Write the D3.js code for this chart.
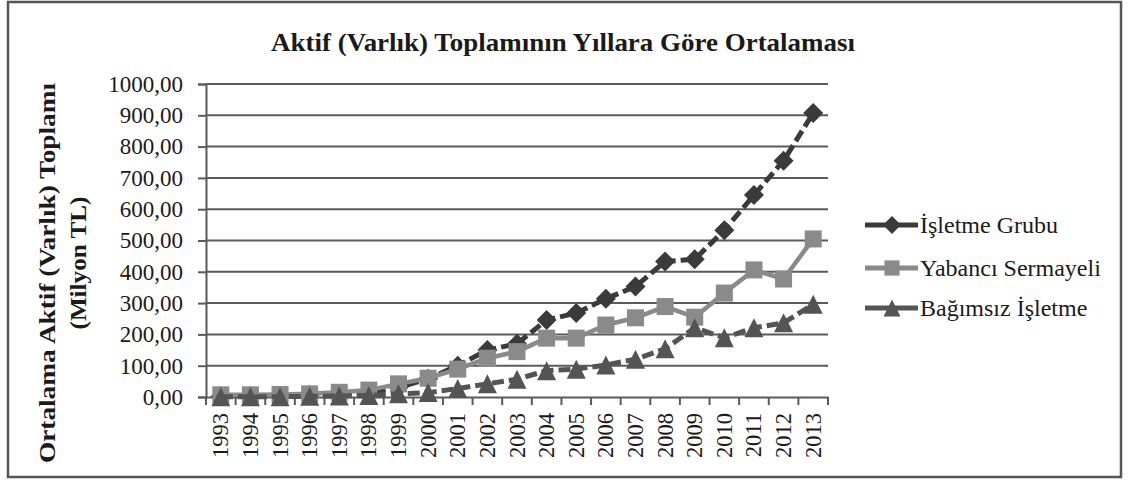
<!DOCTYPE html>
<html>
<head>
<meta charset="utf-8">
<script src="https://cdn.jsdelivr.net/npm/d3@7/dist/d3.min.js"></script>
<style>
  html, body { margin: 0; padding: 0; background: #fff; }
  svg { display: block; }
  text { font-family: 'Liberation Serif', 'Times New Roman', serif; fill: #1a1a1a; }
</style>
</head>
<body>
<svg id="chart" width="1129" height="481"></svg>
<script>
const years = ["1993","1994","1995","1996","1997","1998","1999","2000","2001","2002","2003",
               "2004","2005","2006","2007","2008","2009","2010","2011","2012","2013"];
const isletmeGrubu = [2, 3, 4, 6, 9, 14, 30, 58, 100, 150, 170, 246, 268, 314, 353, 433, 440, 533, 645, 755, 907];
const yabanciSermayeli = [7, 7, 8, 10, 15, 22, 42, 60, 89, 124, 145, 188, 188, 230, 253, 289, 255, 332, 406, 377, 505];
const bagimsizIsletme = [1, 1, 1, 2, 3, 5, 10, 14, 27, 42, 57, 84, 89, 102, 121, 154, 221, 189, 221, 237, 296];
const yTicks = [0, 100, 200, 300, 400, 500, 600, 700, 800, 900, 1000];
const seriesNames = ["İşletme Grubu", "Yabancı Sermayeli", "Bağımsız İşletme"];
const chartTitle = "Aktif (Varlık) Toplamının Yıllara Göre Ortalaması";
const yTitleLines = ["Ortalama Aktif (Varlık) Toplamı", "(Milyon TL)"];

const svg = d3.select("#chart");

// outer frame
svg.append("rect").attr("x", 8).attr("y", 2).attr("width", 1113).attr("height", 475)
  .attr("fill", "#fff").attr("stroke", "#555").attr("stroke-width", 2.5);

const plot = { left: 206, right: 828, top: 84, bottom: 397 };

const x = d3.scaleBand().domain(years).range([plot.left, plot.right]).paddingInner(0).paddingOuter(0);
const y = d3.scaleLinear().domain([0, 1000]).range([plot.bottom, plot.top]);
const cx = d => x(d) + x.bandwidth() / 2;

// gridlines
svg.append("g").selectAll("line").data(yTicks.filter(d => d > 0)).join("line")
  .attr("x1", plot.left).attr("x2", plot.right)
  .attr("y1", d => y(d)).attr("y2", d => y(d))
  .attr("stroke", "#5a5a5a").attr("stroke-width", 2);

// y axis
const fmt = d => d3.format(".2f")(d).replace(".", ",");
const yAxis = svg.append("g").attr("transform", `translate(${plot.left},0)`)
  .call(d3.axisLeft(y).tickValues(yTicks).tickFormat(fmt).tickSize(8).tickPadding(15));
yAxis.attr("font-family", null);
yAxis.select(".domain").attr("stroke", "#5a5a5a").attr("stroke-width", 2);
yAxis.selectAll(".tick line").attr("stroke", "#5a5a5a").attr("stroke-width", 2);
yAxis.selectAll(".tick text").attr("font-size", 23).attr("fill", "#1a1a1a");

// x axis
const xAxis = svg.append("g").attr("transform", `translate(0,${plot.bottom})`)
  .call(d3.axisBottom(x).tickSize(0).tickPadding(0));
xAxis.attr("font-family", null);
xAxis.select(".domain").attr("stroke", "#5a5a5a").attr("stroke-width", 2);
xAxis.selectAll(".tick text")
  .attr("font-size", 22.5).attr("fill", "#1a1a1a")
  .attr("text-anchor", "end").attr("dominant-baseline", "central")
  .attr("transform", "translate(0,16) rotate(-90)").attr("x", 0).attr("y", 0).attr("dy", null);
// boundary tick marks
const bounds = years.map(d => x(d)).concat([plot.right]);
xAxis.append("g").selectAll("line").data(bounds).join("line")
  .attr("x1", d => d).attr("x2", d => d).attr("y1", 0).attr("y2", 8)
  .attr("stroke", "#5a5a5a").attr("stroke-width", 2);

// title
svg.append("text").attr("x", 563).attr("y", 51).attr("text-anchor", "middle")
  .attr("font-size", 25).attr("font-weight", "bold").attr("textLength", 584)
  .attr("lengthAdjust", "spacingAndGlyphs").text(chartTitle);

// y title
const yT = svg.append("g").attr("transform", "translate(0,273) rotate(-90)");
yT.append("text").attr("x", 0).attr("y", 55).attr("text-anchor", "middle")
  .attr("font-size", 24).attr("font-weight", "bold").attr("textLength", 380)
  .attr("lengthAdjust", "spacingAndGlyphs").text(yTitleLines[0]);
yT.append("text").attr("x", 10).attr("y", 86).attr("text-anchor", "middle")
  .attr("font-size", 24).attr("font-weight", "bold").attr("textLength", 133)
  .attr("lengthAdjust", "spacingAndGlyphs").text(yTitleLines[1]);

// custom triangle / diamond symbols (width ~ height)
const triSym = { draw(ctx, size) { const s = Math.sqrt(size); ctx.moveTo(0, -s/2); ctx.lineTo(s/2, s/2); ctx.lineTo(-s/2, s/2); ctx.closePath(); } };
const diamondSym = { draw(ctx, size) { const s = Math.sqrt(size) / 2; ctx.moveTo(0, -s); ctx.lineTo(s, 0); ctx.lineTo(0, s); ctx.lineTo(-s, 0); ctx.closePath(); } };

const series = [
  { name: seriesNames[0], values: isletmeGrubu, color: "#3a3a3a", dash: "12,5", width: 5, sym: diamondSym, size: 20*20 },
  { name: seriesNames[1], values: yabanciSermayeli, color: "#8a8a8a", dash: null, width: 4.5, sym: d3.symbolSquare, size: 17*17 },
  { name: seriesNames[2], values: bagimsizIsletme, color: "#545454", dash: "12,5", width: 5, sym: triSym, size: 19*19 }
];

const line = d3.line().x((d, i) => cx(years[i])).y(d => y(d));

series.forEach(s => {
  const g = svg.append("g");
  g.append("path").attr("d", line(s.values)).attr("fill", "none")
    .attr("stroke", s.color).attr("stroke-width", s.width)
    .attr("stroke-dasharray", s.dash).attr("stroke-linejoin", "round");
  g.selectAll("path.m").data(s.values).join("path").attr("class", "m")
    .attr("transform", (d, i) => `translate(${cx(years[i])},${y(d)})`)
    .attr("d", d3.symbol().type(s.sym).size(s.size)())
    .attr("fill", s.color);
});

// legend
const legY = [225, 268, 308];
const leg = svg.append("g");
series.forEach((s, i) => {
  leg.append("line").attr("x1", 865).attr("x2", 918).attr("y1", legY[i]).attr("y2", legY[i])
    .attr("stroke", s.color).attr("stroke-width", 5);
  leg.append("path").attr("transform", `translate(892,${legY[i]})`)
    .attr("d", d3.symbol().type(s.sym).size(s.size * 0.8)()).attr("fill", s.color);
  leg.append("text").attr("x", 920).attr("y", legY[i]).attr("dominant-baseline", "central")
    .attr("font-size", 24).text(s.name);
});
</script>
</body>
</html>
